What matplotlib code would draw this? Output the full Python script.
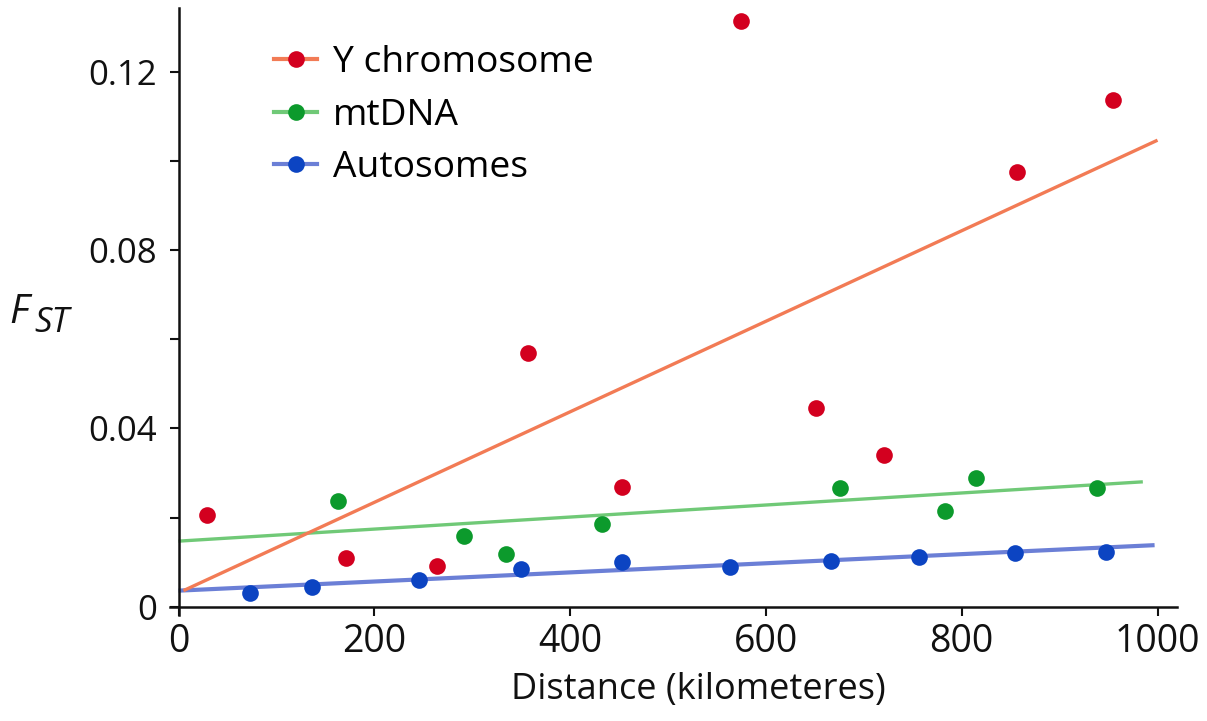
import matplotlib
matplotlib.use("Agg")
import matplotlib.pyplot as plt
from matplotlib.lines import Line2D

# ---- data ----
y_dist = [28.8, 171.1, 263.7, 356.7, 453.3, 574.3, 650.9, 721.0, 856.2, 954.2]
y_fst = [0.0206, 0.0109, 0.0092, 0.0568, 0.0269, 0.1314, 0.0445, 0.0340, 0.0975, 0.1135]
mt_dist = [162.6, 291.6, 334.5, 432.6, 675.7, 783.0, 814.3, 938.2]
mt_fst = [0.0237, 0.0159, 0.0118, 0.0185, 0.0266, 0.0215, 0.0288, 0.0267]
au_dist = [73.0, 136.0, 246.0, 349.5, 452.7, 563.3, 666.2, 756.4, 854.4, 947.4]
au_fst = [0.0031, 0.0044, 0.0060, 0.0084, 0.0101, 0.0088, 0.0103, 0.0112, 0.0120, 0.0123]

# fitted trend lines (end points)
y_fit_x = [5, 1000]
y_fit_y = [0.0036, 0.1046]
mt_fit_x = [0, 985]
mt_fit_y = [0.0147, 0.0280]
au_fit_x = [0, 997]
au_fit_y = [0.0036, 0.0138]

labels = ["Y chromosome", "mtDNA", "Autosomes"]
x_ticks = [0, 200, 400, 600, 800, 1000]
y_major = [0, 0.04, 0.08, 0.12]
y_major_labels = ["0", "0.04", "0.08", "0.12"]
y_minor = [0.02, 0.06, 0.10]

# ---- styling ----
plt.rcParams['font.family'] = ['Open Sans', 'DejaVu Sans']
dot_colors = ["#d3001f", "#0c9a2c", "#0c44c2"]
line_colors = ["#f27b55", "#70c977", "#6b7fd6"]

fig = plt.figure(figsize=(12.07, 7.21), dpi=100)
ax = fig.add_axes([170/1207, 1 - 615/721, (1177 - 170)/1207, (615 - 8)/721])
ax.set_xlim(-8.7, 1019.9)
ax.set_ylim(-0.00186, 0.13424)

ax.plot(au_fit_x, au_fit_y, color=line_colors[2], lw=3.0, solid_capstyle='butt', zorder=2)
ax.plot(mt_fit_x, mt_fit_y, color=line_colors[1], lw=2.4, solid_capstyle='butt', zorder=2)
ax.plot(y_fit_x, y_fit_y, color=line_colors[0], lw=2.4, solid_capstyle='butt', zorder=3)

ms = 12
ax.plot(y_dist, y_fst, 'o', color=dot_colors[0], ms=ms, mew=0, zorder=4)
ax.plot(mt_dist, mt_fst, 'o', color=dot_colors[1], ms=ms, mew=0, zorder=4)
ax.plot(au_dist, au_fst, 'o', color=dot_colors[2], ms=ms, mew=0, zorder=4)

for s in ['top', 'right']:
    ax.spines[s].set_visible(False)
ax.spines['left'].set_position(('data', 0))
ax.spines['bottom'].set_position(('data', 0))
for s in ['left', 'bottom']:
    ax.spines[s].set_linewidth(1.8)
    ax.spines[s].set_color('#111111')

ax.set_xticks(x_ticks)
ax.set_xticklabels([str(v) for v in x_ticks])
ax.set_yticks(y_major)
ax.set_yticklabels(y_major_labels)
ax.set_yticks(y_minor, minor=True)
ax.tick_params(axis='x', which='both', direction='out', length=6.5, width=1.5,
               labelsize=27, pad=5, colors='#111111')
ax.tick_params(axis='y', which='both', direction='out', length=6.5, width=1.5,
               labelsize=25, pad=9, colors='#111111')

fig.text(698/1207, 1 - 690/721, "Distance (kilometeres)", ha='center', va='center',
         fontsize=26, color='#111111')
fig.text(9/1207, 1 - 313/721, "F", ha='left', va='center', fontsize=29,
         style='italic', color='#111111')
fig.text(34/1207, 1 - 323/721, "ST", ha='left', va='center', fontsize=25,
         style='italic', color='#111111')

handles = [Line2D([0], [0], color=lc, lw=3, marker='o', ms=ms, mfc=dc, mec=dc, mew=0)
           for lc, dc in zip(line_colors, dot_colors)]
fig.legend(handles, labels, loc='upper left', bbox_to_anchor=(274/1207, 1 - 45/721),
           frameon=False, fontsize=26.7, handlelength=1.16, handletextpad=0.42,
           labelspacing=0.45, borderpad=0, borderaxespad=0)

fig.savefig("out.png", dpi=100)
